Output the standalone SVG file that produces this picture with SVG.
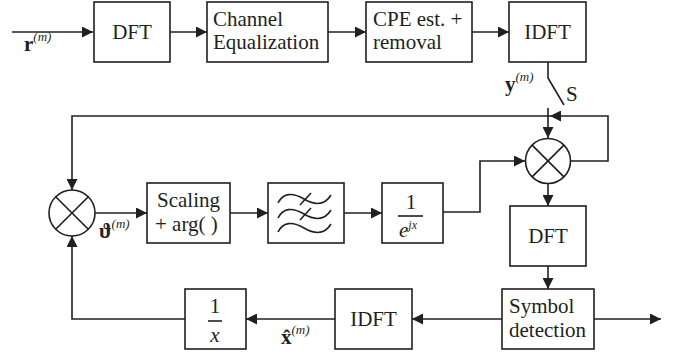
<svg xmlns="http://www.w3.org/2000/svg" width="681" height="360" viewBox="0 0 681 360" font-family="'Liberation Serif', 'Times New Roman', 'DejaVu Serif', serif">
  <style>
    .box { fill: #fff; stroke: #231f20; stroke-width: 1.6; }
    .wire { fill: none; stroke: #231f20; stroke-width: 1.6; }
    text { font-family: 'Liberation Serif', 'Times New Roman', 'DejaVu Serif', serif; fill: #231f20; }
    .t { font-size: 21px; }
    .c { text-anchor: middle; }
    .lbl { font-size: 21px; }
    .sup { font-size: 13px; font-style: italic; font-weight: normal; }
  </style>
  <defs>
    <marker id="arr" viewBox="0 0 10 10" refX="10" refY="5" markerWidth="11" markerHeight="11" markerUnits="userSpaceOnUse" orient="auto">
      <path d="M0,0 L10,5 L0,10 Z" fill="#231f20"/>
    </marker>
  </defs>

  <!-- connectors -->
  <g id="connectors" class="wire">
    <path d="M12,32 H93" marker-end="url(#arr)"/>
    <path d="M170,32 H207" marker-end="url(#arr)"/>
    <path d="M328,32 H366" marker-end="url(#arr)"/>
    <path d="M472,32 H509" marker-end="url(#arr)"/>
    <!-- switch S -->
    <path d="M548,62 V78 L564,105"/>
    <path d="M548,108 V138" marker-end="url(#arr)"/>
    <!-- feedback loop around the right multiplier -->
    <path d="M571,161 H608 V116 H550" marker-end="url(#arr)"/>
    <path d="M550,116 H72 V190" marker-end="url(#arr)"/>
    <!-- main lower chain -->
    <path d="M95,213 H147" marker-end="url(#arr)"/>
    <path d="M230,213 H268" marker-end="url(#arr)"/>
    <path d="M344,213 H382" marker-end="url(#arr)"/>
    <path d="M443,212 H480 V161 H525" marker-end="url(#arr)"/>
    <path d="M548,184 V206" marker-end="url(#arr)"/>
    <path d="M548,266 V289" marker-end="url(#arr)"/>
    <path d="M594,319 H661" marker-end="url(#arr)"/>
    <path d="M502,319 H412" marker-end="url(#arr)"/>
    <path d="M335,319 H246" marker-end="url(#arr)"/>
    <path d="M185,319 H72 V236" marker-end="url(#arr)"/>
  </g>

  <!-- edge labels -->
  <g id="labels">
    <text class="lbl" x="24" y="51"><tspan font-weight="bold">r</tspan><tspan class="sup" dy="-10">(m)</tspan></text>
    <text class="lbl" x="505" y="91"><tspan font-weight="bold">y</tspan><tspan class="sup" dy="-10">(m)</tspan></text>
    <text class="t" x="566" y="101">S</text>
    <text class="lbl" x="99" y="238"><tspan font-weight="bold">ϑ</tspan><tspan class="sup" dy="-10">(m)</tspan></text>
    <text class="lbl" x="281" y="344"><tspan font-weight="bold">x̂</tspan><tspan class="sup" dy="-10">(m)</tspan></text>
  </g>

  <g id="dft1">
    <rect class="box" x="94" y="2" width="76" height="60"/>
    <text class="t c" x="132" y="39">DFT</text>
  </g>
  <g id="equalizer">
    <rect class="box" x="207" y="2" width="121" height="60"/>
    <text class="t" x="213" y="26">Channel</text>
    <text class="t" x="213" y="49">Equalization</text>
  </g>
  <g id="cpe">
    <rect class="box" x="366" y="2" width="106" height="60"/>
    <text class="t" x="373" y="26">CPE est. +</text>
    <text class="t" x="373" y="49">removal</text>
  </g>
  <g id="idft1">
    <rect class="box" x="509" y="2" width="77" height="60"/>
    <text class="t c" x="547.5" y="39">IDFT</text>
  </g>

  <g id="mult-right">
    <circle class="box" cx="548" cy="161" r="22.5"/>
    <path class="wire" d="M532.1,145.1 L563.9,176.9 M563.9,145.1 L532.1,176.9"/>
  </g>
  <g id="mult-left">
    <circle class="box" cx="72" cy="213" r="23"/>
    <path class="wire" d="M55.7,196.7 L88.3,229.3 M88.3,196.7 L55.7,229.3"/>
  </g>

  <g id="scaling">
    <rect class="box" x="147" y="183" width="83" height="60"/>
    <text class="t" x="157" y="207">Scaling</text>
    <text class="t" x="155" y="231">+ arg( )</text>
  </g>
  <g id="lowpass">
    <rect class="box" x="268" y="183" width="76" height="60"/>
    <path class="wire" d="M278,203 C283,193 292,192 304,199 C316,206 325,205 331,195"/>
    <path class="wire" d="M278,218 C283,208 292,207 304,214 C316,221 325,220 331,210"/>
    <path class="wire" d="M278,232 C283,222 292,221 304,228 C316,235 325,234 331,224"/>
    <path class="wire" d="M300,205 L311,193 M300,220 L311,208"/>
  </g>
  <g id="inv-exp">
    <rect class="box" x="382" y="183" width="61" height="60"/>
    <text class="t c" x="411" y="209">1</text>
    <path class="wire" d="M398,216 H423"/>
    <text class="t" x="399" y="237" font-style="italic">e<tspan font-size="12px" dy="-8">jx</tspan></text>
  </g>

  <g id="dft2">
    <rect class="box" x="510" y="206" width="76" height="60"/>
    <text class="t c" x="548" y="243">DFT</text>
  </g>
  <g id="detector">
    <rect class="box" x="502" y="289" width="92" height="60"/>
    <text class="t" x="509" y="313">Symbol</text>
    <text class="t" x="509" y="337">detection</text>
  </g>
  <g id="idft2">
    <rect class="box" x="335" y="289" width="77" height="60"/>
    <text class="t c" x="373.5" y="326">IDFT</text>
  </g>
  <g id="reciprocal">
    <rect class="box" x="185" y="289" width="61" height="60"/>
    <text class="t c" x="215" y="313">1</text>
    <path class="wire" d="M208,321 H222"/>
    <text class="t c" x="215" y="342" font-style="italic">x</text>
  </g>
</svg>
